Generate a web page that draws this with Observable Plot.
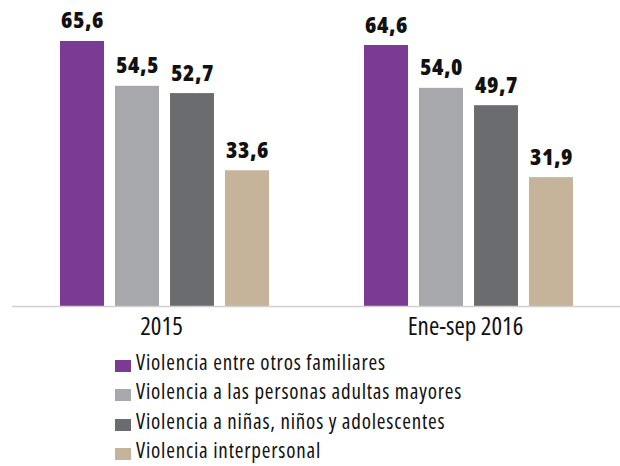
<!DOCTYPE html>
<html><head><meta charset="utf-8">
<script src="https://cdn.jsdelivr.net/npm/d3@7"></script>
<script src="https://cdn.jsdelivr.net/npm/@observablehq/plot@0.6"></script>
<style>
body{margin:0;background:#fff;font-family:"Open Sans","DejaVu Sans Condensed",sans-serif;font-stretch:75%;}
svg text{font-stretch:75%;}
svg g[aria-label="text"] text{letter-spacing:0.6px;}
#legend{margin:2px 0 0 115px;}
.row{display:flex;align-items:center;height:29.3px;font-size:21px;line-height:29.3px;color:#111;letter-spacing:0.8px;}
.sw{width:16px;height:12px;margin:7px 5px 0 0;flex:none;}
</style></head><body><div id="chart"></div><div id="legend"></div>
<script>
const periods = ["2015", "Ene-sep 2016"];
const series = [
  "Violencia entre otros familiares",
  "Violencia a las personas adultas mayores",
  "Violencia a niñas, niños y adolescentes",
  "Violencia interpersonal"
];
const values2015 = [65.6, 54.5, 52.7, 33.6];
const values2016 = [64.6, 54.0, 49.7, 31.9];
const colors = ["#7b3b94", "#a7a8ab", "#6b6c70", "#c5b49a"];

const valuesByPeriod = [values2015, values2016];
const data = periods.flatMap((p, i) => series.map((s, j) => ({period: p, serie: s, value: valuesByPeriod[i][j]})));
const fmt = v => v.toFixed(1).replace(".", ",");

const chart = Plot.plot({
  width: 620, height: 346,
  marginTop: 3, marginBottom: 40, marginLeft: 12, marginRight: 0,
  style: {fontFamily: '"Open Sans","DejaVu Sans Condensed",sans-serif', background: "#fff", color: "#111"},
  fx: {domain: periods, padding: 0},
  x: {domain: series, paddingInner: 0.2, paddingOuter: 0.86, axis: null},
  y: {domain: [0, 75], axis: null},
  color: {domain: series, range: colors},
  marks: [
    Plot.barY(data, {fx: "period", x: "serie", y: "value", fill: "serie"}),
    Plot.text(data, {fx: "period", x: "serie", y: "value", text: d => fmt(d.value), dy: -13, lineAnchor: "bottom", fontWeight: 800, fontSize: 23, fill: "#111"}),
    Plot.ruleY([0], {stroke: "#d0d0d0", strokeWidth: 1.5}),
    Plot.axisFx({anchor: "bottom", tickSize: 0, tickPadding: 11, fontSize: 25, dx: -3, label: null})
  ]
});
document.getElementById("chart").appendChild(chart);

const legend = document.getElementById("legend");
series.forEach((s, i) => {
  const row = document.createElement("div");
  row.className = "row";
  const sw = document.createElement("span");
  sw.className = "sw";
  sw.style.background = colors[i];
  const t = document.createElement("span");
  t.textContent = s;
  row.appendChild(sw); row.appendChild(t);
  legend.appendChild(row);
});
</script></body></html>
